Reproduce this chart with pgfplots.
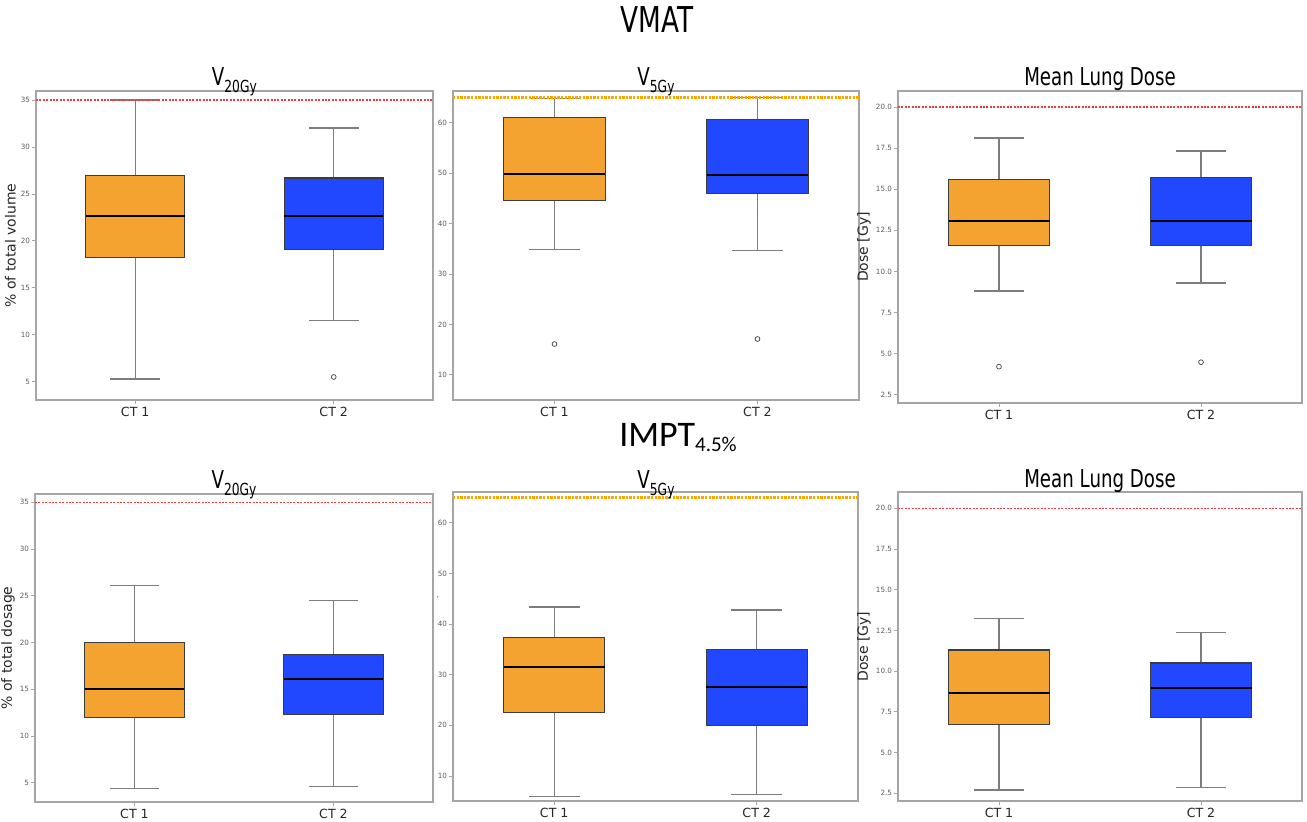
\documentclass[border=0pt]{standalone}
\usepackage{pgfplots}
\pgfplotsset{compat=1.18}
\usepgfplotslibrary{statistics}
\usepackage{fontspec}
\setmainfont{DejaVu Sans}
\newfontfamily\condfont[FakeStretch=0.74]{DejaVu Sans}
\newfontfamily\carl{Carlito}
\definecolor{orangeF}{RGB}{244,163,48}
\definecolor{blueF}{RGB}{33,72,255}
\definecolor{boxedge}{RGB}{60,60,60}
\definecolor{whisk}{RGB}{125,125,125}
\definecolor{framegray}{RGB}{165,165,165}
\definecolor{ticktext}{RGB}{90,90,90}
\definecolor{thrred}{RGB}{240,60,60}
\definecolor{orangeline}{RGB}{255,165,0}
\newcommand{\ttl}[2]{\condfont\fontsize{12.3}{14}\selectfont #1\raisebox{-0.45ex}{\fontsize{8.3}{9}\selectfont #2}}
\pgfplotsset{
  common/.style={
    scale only axis, anchor=north west,
    xmin=0.5, xmax=2.5, xtick={1,2}, xticklabels={CT 1, CT 2},
    axis line style={draw=framegray, line width=0.8pt},
    tick align=outside, major tick length=1.8pt,
    tick style={draw=framegray, line width=0.4pt},
    xtick pos=bottom, ytick pos=left,
    yticklabel style={font=\fontsize{3.6}{4}\selectfont, text=ticktext, inner sep=1pt},
    xticklabel style={font=\fontsize{6.3}{7}\selectfont, text=black!85, inner sep=1.5pt},
    ylabel style={font=\fontsize{7}{8}\selectfont, text=black!85, yshift=-2pt},
    /pgf/number format/assume math mode=true,
    boxplot/draw direction=y,
    boxplot/box extend=0.5, boxplot/whisker extend=0.25,
  },
  mld/.style={ytick={2.5,5,...,20}, yticklabel style={/pgf/number format/.cd, fixed, fixed zerofill, precision=1}},
  ctone/.style={
    boxplot/every box/.style={draw=boxedge, fill=orangeF, line width=0.6pt},
    boxplot/every whisker/.style={draw=whisk, line width=0.7pt},
    boxplot/every median/.style={draw=black, line width=1pt},
    mark=o, mark size=1.2pt, mark options={draw=black!75, line width=0.35pt}},
  cttwo/.style={
    boxplot/every box/.style={draw=boxedge, fill=blueF, line width=0.6pt},
    boxplot/every whisker/.style={draw=whisk, line width=0.7pt},
    boxplot/every median/.style={draw=black, line width=1pt},
    mark=o, mark size=1.2pt, mark options={draw=black!75, line width=0.35pt}},
  thr/.style={draw=thrred, line width=0.75pt, dash pattern=on 1pt off 0.7pt},
  throl/.style={draw=orangeline, line width=1.1pt, dash pattern=on 1.2pt off 0.6pt},
}
\begin{document}
\begin{tikzpicture}
\useasboundingbox (0,0) rectangle (653.5pt,-411pt);

% ---------------- VMAT row ----------------
\begin{axis}[common, at={(18pt,-45.5pt)}, width=198.5pt, height=154.5pt,
  ymin=3.05, ymax=35.96, ytick={5,10,...,35}, ylabel={\% of total volume}]
\addplot[ctone, boxplot prepared={lower whisker=5.3, lower quartile=18.2, median=22.6, upper quartile=27.0, upper whisker=35.0, draw position=1}] coordinates {};
\addplot[cttwo, boxplot prepared={lower whisker=11.5, lower quartile=19.1, median=22.6, upper quartile=26.7, upper whisker=32.0, draw position=2}] coordinates {(2,5.5)};
\addplot[thr] coordinates {(0.5,35) (2.5,35)};
\end{axis}

\begin{axis}[common, at={(226.5pt,-45.5pt)}, width=203pt, height=154.5pt,
  ymin=5.0, ymax=66.3, ytick={10,20,...,60}]
\addplot[ctone, boxplot prepared={lower whisker=34.9, lower quartile=44.5, median=49.8, upper quartile=61.1, upper whisker=64.8, draw position=1}] coordinates {(1,16.1)};
\addplot[cttwo, boxplot prepared={lower whisker=34.6, lower quartile=46.0, median=49.6, upper quartile=60.7, upper whisker=65.0, draw position=2}] coordinates {(2,17.1)};
\addplot[throl] coordinates {(0.5,65) (2.5,65)};
\end{axis}

\begin{axis}[common, mld, at={(449pt,-45.5pt)}, width=202pt, height=156pt,
  ymin=2.0, ymax=20.97, ylabel={Dose [Gy]}]
\addplot[ctone, boxplot prepared={lower whisker=8.81, lower quartile=11.56, median=13.06, upper quartile=15.6, upper whisker=18.12, draw position=1}] coordinates {(1,4.21)};
\addplot[cttwo, boxplot prepared={lower whisker=9.3, lower quartile=11.56, median=13.08, upper quartile=15.69, upper whisker=17.31, draw position=2}] coordinates {(2,4.48)};
\addplot[thr] coordinates {(0.5,20) (2.5,20)};
\end{axis}

% ---------------- IMPT row ----------------
\begin{axis}[common, at={(17.5pt,-247pt)}, width=199pt, height=154pt,
  ymin=2.93, ymax=35.89, ytick={5,10,...,35}, ylabel={\% of total dosage}]
\addplot[ctone, boxplot prepared={lower whisker=4.4, lower quartile=12.0, median=15.0, upper quartile=20.0, upper whisker=26.1, draw position=1}] coordinates {};
\addplot[cttwo, boxplot prepared={lower whisker=4.6, lower quartile=12.3, median=16.1, upper quartile=18.7, upper whisker=24.5, draw position=2}] coordinates {};
\addplot[thr] coordinates {(0.5,35) (2.5,35)};
\end{axis}

\begin{axis}[common, at={(226.5pt,-246pt)}, width=202.5pt, height=154.5pt,
  ymin=5.05, ymax=66.1, ytick={10,20,...,60}, ylabel={\fontsize{3.5}{4}\selectfont -},
  ylabel style={xshift=24.5pt, yshift=-3.5pt}]
\addplot[ctone, boxplot prepared={lower whisker=5.9, lower quartile=22.6, median=31.5, upper quartile=37.4, upper whisker=43.4, draw position=1}] coordinates {};
\addplot[cttwo, boxplot prepared={lower whisker=6.3, lower quartile=19.9, median=27.6, upper quartile=35.0, upper whisker=42.8, draw position=2}] coordinates {};
\addplot[throl] coordinates {(0.5,65) (2.5,65)};
\end{axis}

\begin{axis}[common, mld, at={(449pt,-246pt)}, width=202pt, height=154.5pt,
  ymin=2.03, ymax=21.0, ylabel={Dose [Gy]}]
\addplot[ctone, boxplot prepared={lower whisker=2.7, lower quartile=6.75, median=8.65, upper quartile=11.3, upper whisker=13.24, draw position=1}] coordinates {};
\addplot[cttwo, boxplot prepared={lower whisker=2.85, lower quartile=7.18, median=8.98, upper quartile=10.5, upper whisker=12.38, draw position=2}] coordinates {};
\addplot[thr] coordinates {(0.5,20) (2.5,20)};
\end{axis}

% ---------------- titles ----------------
\node[anchor=base] at (328.5pt,-16.5pt) {\condfont\fontsize{17.8}{20}\selectfont VMAT};
\node[anchor=base] at (339pt,-223.5pt) {\carl\fontsize{18}{20}\selectfont IMPT\raisebox{-0.25ex}{\fontsize{10.5}{12}\selectfont 4.5\%}};
\node[anchor=base] at (117.2pt,-43pt) {\ttl{V}{20Gy}};
\node[anchor=base] at (328pt,-43pt) {\ttl{V}{5Gy}};
\node[anchor=base] at (550pt,-43pt) {\condfont\fontsize{12.3}{14}\selectfont Mean Lung Dose};
\node[anchor=base] at (117pt,-244.5pt) {\ttl{V}{20Gy}};
\node[anchor=base] at (328pt,-244.5pt) {\ttl{V}{5Gy}};
\node[anchor=base] at (550pt,-244pt) {\condfont\fontsize{12.3}{14}\selectfont Mean Lung Dose};
\end{tikzpicture}
\end{document}
